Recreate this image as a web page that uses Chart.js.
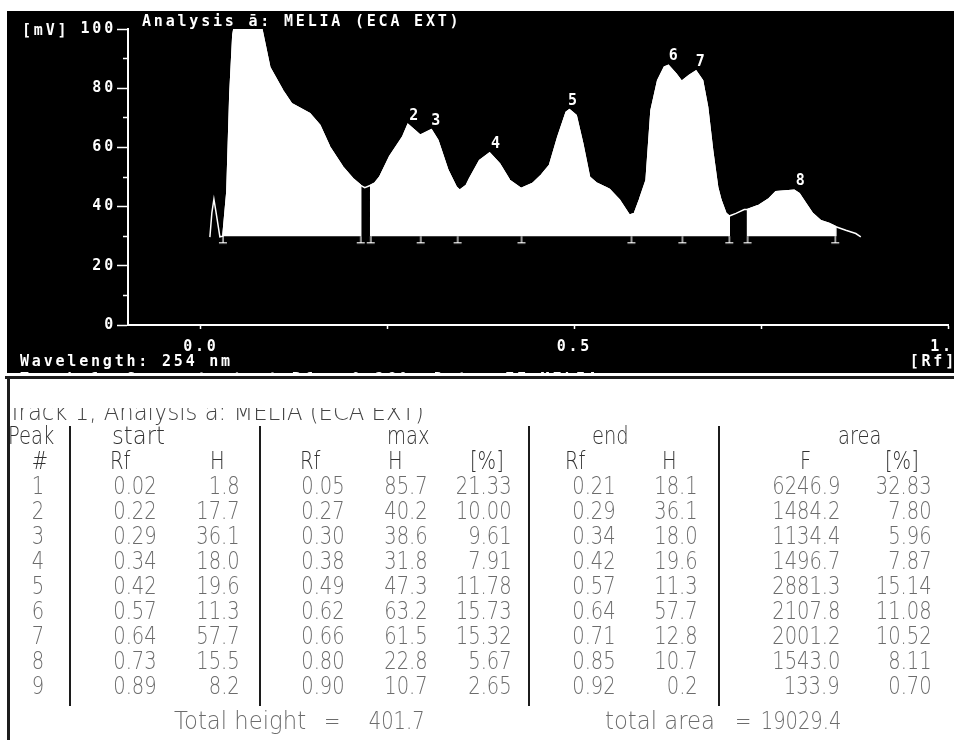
<!DOCTYPE html>
<html>
<head>
<meta charset="utf-8">
<script src="https://cdn.jsdelivr.net/npm/chart.js@4/dist/chart.umd.min.js"></script>
<style>
  html, body { margin: 0; padding: 0; background: #fff; width: 954px; height: 740px; overflow: hidden; position: relative; }
  #plot { position: absolute; left: 7px; top: 11px; background: #000; }
  #sheet { position: absolute; left: 0; top: 0; width: 954px; height: 740px; filter: blur(0.35px); }
  .rule { position: absolute; background: #1c1c1c; }
  .t { position: absolute; font: 200 25px/25px "DejaVu Sans", sans-serif; white-space: pre; color: #6c6c6c; transform: scaleX(0.78); }
  .l { transform-origin: left center; }
  .r { transform-origin: right center; }
  .c { transform-origin: center center; }
  .t.wide { transform: scaleX(0.91); }
</style>
</head>
<body>
<canvas id="plot" width="947" height="362"></canvas>
<div id="sheet"></div>
<script>
// densitogram trace: Rf vs signal [mV]
const traceRf = [0.0120, 0.0147, 0.0174, 0.0200, 0.0254, 0.0294, 0.0348, 0.0388, 0.0428, 0.0455,
  0.0500, 0.0600, 0.0700, 0.0815, 0.0922, 0.1096, 0.1213, 0.1457, 0.1591, 0.1725,
  0.1898, 0.2032, 0.2139, 0.2193, 0.2273, 0.2326, 0.2393, 0.2527, 0.2700, 0.2771,
  0.2937, 0.3084, 0.3172, 0.3306, 0.3418, 0.3463, 0.3552, 0.3596, 0.3730, 0.3864,
  0.3997, 0.4131, 0.4287, 0.4439, 0.4555, 0.4666, 0.4777, 0.4889, 0.4933, 0.5023,
  0.5111, 0.5201, 0.5290, 0.5424, 0.5468, 0.5602, 0.5735, 0.5802, 0.5869, 0.5959,
  0.6025, 0.6114, 0.6203, 0.6257, 0.6360, 0.6435, 0.6537, 0.6627, 0.6715, 0.6782,
  0.6849, 0.6916, 0.6961, 0.7028, 0.7072, 0.7162, 0.7273, 0.7317, 0.7473, 0.7607,
  0.7696, 0.7941, 0.8008, 0.8098, 0.8186, 0.8298, 0.8409, 0.8499, 0.8632, 0.8766, 0.8833];
const traceMv = [29.7, 38.0, 42.5, 38.5, 29.8, 30.0, 45.0, 78.0, 98.0, 102.0,
  114.0, 113.0, 108.0, 100.0, 87.0, 79.2, 74.8, 71.4, 67.5, 60.1,
  53.4, 49.5, 47.2, 46.4, 47.2, 47.9, 50.0, 57.0, 63.5, 67.7,
  64.1, 66.0, 62.4, 52.3, 46.6, 45.5, 47.2, 49.5, 55.6, 58.1,
  54.5, 48.9, 46.1, 47.8, 50.6, 54.0, 63.5, 71.9, 72.7, 70.8,
  61.3, 50.0, 48.0, 46.4, 45.8, 42.2, 37.1, 37.7, 42.2, 48.9,
  72.5, 82.6, 87.1, 87.7, 84.8, 82.3, 84.3, 85.8, 82.6, 73.6,
  59.0, 46.6, 42.2, 37.7, 36.8, 37.7, 39.0, 39.0, 40.5, 42.7,
  45.0, 45.5, 44.4, 41.0, 37.7, 35.2, 34.3, 33.2, 32.0, 30.9, 29.8];
const baselineMv = 30;
const peakRanges = [[0.0294, 0.2139], [0.2273, 0.7072], [0.7317, 0.8499]];
const boundaryRf = [0.0294, 0.2139, 0.2273, 0.2941, 0.3436, 0.4291, 0.5762, 0.6444, 0.7072, 0.7317, 0.8490];
const peakLabels = ["2", "3", "4", "5", "6", "7", "8"];
const peakLabelRf = [0.2848, 0.3142, 0.3944, 0.4973, 0.6324, 0.6684, 0.8021];
const peakLabelMv = [67.7, 66.0, 58.1, 72.7, 87.7, 85.8, 45.5];
const xTickValues = [0, 0.25, 0.5, 0.75, 1];
const xLabelValues = [0, 0.5, 1];

// evaluation table
const peakNo = [1, 2, 3, 4, 5, 6, 7, 8, 9];
const startRf = [0.02, 0.22, 0.29, 0.34, 0.42, 0.57, 0.64, 0.73, 0.89];
const startH = [1.8, 17.7, 36.1, 18.0, 19.6, 11.3, 57.7, 15.5, 8.2];
const maxRf = [0.05, 0.27, 0.30, 0.38, 0.49, 0.62, 0.66, 0.80, 0.90];
const maxH = [85.7, 40.2, 38.6, 31.8, 47.3, 63.2, 61.5, 22.8, 10.7];
const maxPct = [21.33, 10.00, 9.61, 7.91, 11.78, 15.73, 15.32, 5.67, 2.65];
const endRf = [0.21, 0.29, 0.34, 0.42, 0.57, 0.64, 0.71, 0.85, 0.92];
const endH = [18.1, 36.1, 18.0, 19.6, 11.3, 57.7, 12.8, 10.7, 0.2];
const areaF = [6246.9, 1484.2, 1134.4, 1496.7, 2881.3, 2107.8, 2001.2, 1543.0, 133.9];
const areaPct = [32.83, 7.80, 5.96, 7.87, 15.14, 11.08, 10.52, 8.11, 0.70];
const totalHeight = 401.7;
const totalArea = 19029.4;

const monoFont = { family: "'DejaVu Sans Mono', monospace", size: 15, weight: "bold" };
const white = "#fff";

const tracePts = traceRf.map((x, i) => ({ x, y: traceMv[i] }));

const fillSets = peakRanges.map(([a, b]) => ({
  data: [{ x: a, y: baselineMv }, ...tracePts.filter((p) => p.x >= a && p.x <= b), { x: b, y: baselineMv }],
  fill: { value: baselineMv },
  backgroundColor: white,
  borderColor: white,
  borderWidth: 1.5,
  pointRadius: 0,
  tension: 0,
  order: 3,
}));

// little "T"-feet that mark the integration limits on the baseline
const tee = document.createElement("canvas");
tee.width = 10;
tee.height = 18;
const tc = tee.getContext("2d");
tc.fillStyle = white;
tc.fillRect(4.5, 9, 1.2, 7);
tc.fillRect(1, 15, 8, 1.2);

const screenText = {
  id: "screenText",
  beforeDraw(chart) {
    chart.ctx.letterSpacing = "2.8px";
  },
  afterDraw(chart) {
    const { ctx, scales } = chart;
    ctx.save();
    ctx.letterSpacing = "2.8px";
    ctx.fillStyle = white;
    ctx.font = "bold 15px 'DejaVu Sans Mono'";
    ctx.textBaseline = "alphabetic";
    ctx.textAlign = "center";
    peakLabels.forEach((t, i) => {
      ctx.fillText(t, scales.x.getPixelForValue(peakLabelRf[i]) + 1.4, scales.y.getPixelForValue(peakLabelMv[i]) - 5);
    });
    ctx.textAlign = "left";
    ctx.fillText("Analysis ā: MELIA (ECA EXT)", 135, 14.5);
    ctx.fillText("[mV]", 15, 24);
    ctx.fillText("Wavelength: 254 nm", 13, 355);
    ctx.fillText("Track 1, Scan start at Rf = 0.260  Data: FE MELIA", 13, 372.5);
    ctx.textAlign = "right";
    ctx.fillText("[Rf]", 950, 355);
    ctx.restore();
  },
};

new Chart(document.getElementById("plot"), {
  type: "line",
  data: {
    datasets: [
      ...fillSets,
      {
        data: tracePts,
        fill: false,
        borderColor: white,
        borderWidth: 1.5,
        pointRadius: 0,
        tension: 0,
        order: 2,
      },
      {
        type: "scatter",
        data: boundaryRf.map((x) => ({ x, y: baselineMv })),
        pointStyle: tee,
        pointRadius: 5,
        order: 1,
      },
    ],
  },
  options: {
    responsive: false,
    animation: false,
    devicePixelRatio: 1,
    events: [],
    layout: { padding: { top: 18, right: 5, bottom: 0, left: 0 } },
    plugins: { legend: { display: false }, tooltip: { enabled: false } },
    scales: {
      x: {
        type: "linear",
        min: -0.0976,
        max: 1,
        afterBuildTicks: (s) => {
          s.ticks = xTickValues.map((v) => ({ value: v }));
        },
        afterFit: (s) => {
          s.height = 48;
          s.paddingLeft = 0;
          s.paddingRight = 0;
        },
        ticks: {
          color: white,
          font: monoFont,
          padding: 9,
          maxRotation: 0,
          autoSkip: false,
          callback: (v) => (xLabelValues.includes(v) ? v.toFixed(1) : ""),
        },
        grid: { drawOnChartArea: false, tickLength: 4, tickColor: white, tickWidth: 1.5 },
        border: { color: white, width: 2 },
      },
      y: {
        min: 0,
        max: 100,
        afterFit: (s) => {
          s.width = 121;
          s.paddingTop = 0;
          s.paddingBottom = 0;
        },
        ticks: {
          stepSize: 10,
          color: white,
          font: monoFont,
          padding: 1,
          callback: (v) => (v % 20 === 0 ? String(v) : ""),
        },
        grid: {
          drawOnChartArea: false,
          tickLength: 11,
          tickColor: white,
          tickWidth: 1.5,
          tickBorderDash: (c) => (c.tick && c.tick.value % 20 ? [0, 6, 5, 0] : []),
        },
        border: { color: white, width: 2 },
      },
    },
  },
  plugins: [screenText],
});

// ---- the printed evaluation table ----
const sheet = document.getElementById("sheet");

function rule(x, y, w, h) {
  const d = document.createElement("div");
  d.className = "rule";
  Object.assign(d.style, { left: x + "px", top: y + "px", width: w + "px", height: h + "px" });
  sheet.appendChild(d);
}

function put(text, x, cy, align, color, parent) {
  const d = document.createElement("div");
  d.className = "t " + (align === "right" ? "r" : align === "center" ? "c" : "l");
  d.textContent = text;
  d.style.top = cy - 12.3 + "px";
  if (align === "right") d.style.right = 954 - x + "px";
  else if (align === "center") Object.assign(d.style, { left: x - 60 + "px", width: "120px", textAlign: "center" });
  else d.style.left = x + "px";
  if (color) d.style.color = color;
  (parent || sheet).appendChild(d);
  return d;
}

rule(5, 376, 949, 3);
rule(7, 376, 3, 364);
[69, 259, 528, 718].forEach((x) => rule(x, 426, 1.5, 280));

// header line, its top is cut off in the print
const clipBox = document.createElement("div");
Object.assign(clipBox.style, { position: "absolute", left: "0", top: "407.5px", width: "954px", height: "30px", overflow: "hidden" });
sheet.appendChild(clipBox);
put("Track 1, Analysis a: MELIA (ECA EXT)", 8, 411 - 407.5, "left", "#444", clipBox).classList.add("wide");

const dark = "#333";
put("Peak", 8, 435, "left", dark);
put("start", 112, 435, "left", dark).classList.add("wide");
put("max", 387, 435, "left", dark);
put("end", 592, 435, "left", dark);
put("area", 838, 435, "left", dark);
put("#", 40, 460, "center", dark);
[["Rf", 110], ["H", 210], ["Rf", 300], ["H", 388], ["[%]", 470], ["Rf", 565], ["H", 662], ["F", 800], ["[%]", 885]].forEach(([t, x]) =>
  put(t, x, 460, "left", dark)
);

const tableCols = [
  [startRf, 2], [startH, 1], [maxRf, 2], [maxH, 1], [maxPct, 2],
  [endRf, 2], [endH, 1], [areaF, 1], [areaPct, 2],
];
const colRight = [157, 240, 345, 428, 512, 616, 698, 840, 932];

peakNo.forEach((n, i) => {
  const cy = 485 + 25 * i;
  put(String(n), 38, cy, "center", "#6c6c6c");
  tableCols.forEach(([vals, dec], c) => put(vals[i].toFixed(dec), colRight[c], cy, "right"));
});

put("Total height", 174, 720, "left").classList.add("wide");
put("=", 324, 720, "left");
put(totalHeight.toFixed(1), 425, 720, "right");
put("total area", 605, 720, "left").classList.add("wide");
put("=", 735, 720, "left");
put(totalArea.toFixed(1), 841, 720, "right");
</script>
</body>
</html>
